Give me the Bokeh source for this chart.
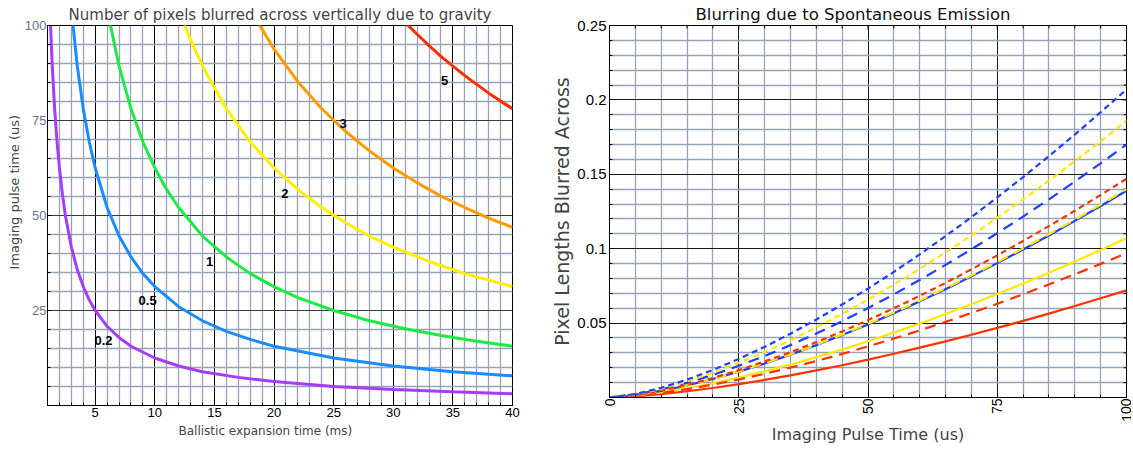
import math
from bokeh.plotting import figure
from bokeh.layouts import row
from bokeh.models import FixedTicker, Range1d, ColumnDataSource, Title
from bokeh.embed import file_html
from bokeh.resources import INLINE
from bokeh.core.properties import value

# ---------------- Gravity blur: imaging pulse time (us) vs ballistic expansion time (ms)
blur_levels = ["0.2", "0.5", "1", "2", "3", "5"]

t_02 = [1.2, 1.4, 1.6, 1.8, 2, 2.25, 2.5, 3, 3.5, 4, 4.5, 5, 6, 7, 8, 10, 12, 14, 17, 20, 25, 30, 35, 40]
tau_02 = [104.2, 89.3, 78.1, 69.4, 62.5, 55.6, 50.0, 41.7, 35.7, 31.3, 27.8, 25.0, 20.8, 17.9, 15.6, 12.5, 10.4, 8.9, 7.4, 6.3, 5.0, 4.2, 3.6, 3.1]

t_05 = [3, 3.5, 4, 4.5, 5, 6, 7, 8, 9, 10, 12, 14, 16, 18, 20, 25, 30, 35, 40]
tau_05 = [104.2, 89.3, 78.1, 69.4, 62.5, 52.1, 44.6, 39.1, 34.7, 31.3, 26.0, 22.3, 19.5, 17.4, 15.6, 12.5, 10.4, 8.9, 7.8]

t_1 = [6, 7, 8, 9, 10, 11, 12, 14, 16, 18, 20, 22, 25, 28, 31, 34, 37, 40]
tau_1 = [104.2, 89.3, 78.1, 69.4, 62.5, 56.8, 52.1, 44.6, 39.1, 34.7, 31.3, 28.4, 25.0, 22.3, 20.2, 18.4, 16.9, 15.6]

t_2 = [12, 13, 14, 16, 18, 20, 22, 24, 26, 28, 30, 33, 36, 40]
tau_2 = [104.2, 96.2, 89.3, 78.1, 69.4, 62.5, 56.8, 52.1, 48.1, 44.6, 41.7, 37.9, 34.7, 31.3]

t_3 = [18, 20, 22, 24, 26, 28, 30, 32, 34, 36, 38, 40]
tau_3 = [104.2, 93.8, 85.2, 78.1, 72.1, 67.0, 62.5, 58.6, 55.1, 52.1, 49.3, 46.9]

t_5 = [30, 31, 32, 33, 34, 35, 36, 37, 38, 39, 40]
tau_5 = [104.2, 100.8, 97.7, 94.7, 91.9, 89.3, 86.8, 84.5, 82.2, 80.1, 78.1]

label_x = [5.7, 9.4, 14.6, 20.9, 25.8, 34.3]
label_y = [17.0, 27.6, 37.9, 55.7, 74.3, 85.4]

left_x_ticks = [5, 10, 15, 20, 25, 30, 35, 40]
left_y_ticks = [25, 50, 75, 100]

# ---------------- Spontaneous emission blur vs imaging pulse time (us)
pulse_us = [0, 5, 10, 15, 20, 25, 30, 35, 40, 45, 50, 55, 60, 65, 70, 75, 80, 85, 90, 95, 100]

red_solid = [0, .0008, .0023, .0042, .0064, .0090, .0118, .0149, .0182, .0217, .0255, .0294, .0335, .0377, .0422, .0468, .0515, .0564, .0615, .0667, .0720]
red_long = [0, .0011, .0031, .0056, .0087, .0121, .0159, .0201, .0245, .0293, .0343, .0396, .0451, .0508, .0568, .0630, .0694, .0760, .0828, .0898, .0970]
red_short = [0, .0016, .0046, .0085, .0131, .0184, .0242, .0304, .0372, .0444, .0520, .0600, .0683, .0770, .0861, .0955, .1052, .1152, .1255, .1361, .1470]
yellow_solid = [0, .0012, .0034, .0062, .0096, .0134, .0176, .0222, .0271, .0323, .0378, .0436, .0497, .0561, .0627, .0695, .0766, .0839, .0914, .0991, .1070]
yellow_long = [0, .0016, .0044, .0081, .0125, .0175, .0230, .0290, .0354, .0423, .0495, .0571, .0651, .0734, .0820, .0909, .1002, .1097, .1195, .1296, .1400]
yellow_short = [0, .0021, .0059, .0108, .0166, .0233, .0306, .0385, .0471, .0561, .0658, .0759, .0864, .0975, .1089, .1208, .1331, .1458, .1588, .1722, .1860]
blue_solid = [0, .0016, .0044, .0081, .0124, .0174, .0228, .0288, .0352, .0420, .0491, .0567, .0646, .0728, .0814, .0903, .0995, .1089, .1187, .1287, .1390]
blue_long = [0, .0019, .0054, .0099, .0152, .0213, .0279, .0352, .0430, .0513, .0601, .0693, .0790, .0891, .0996, .1104, .1216, .1332, .1451, .1574, .1700]
blue_short = [0, .0023, .0065, .0120, .0185, .0259, .0340, .0429, .0524, .0625, .0732, .0844, .0962, .1085, .1212, .1345, .1481, .1622, .1767, .1917, .2070]

right_x_ticks = [0, 25, 50, 75, 100]
right_y_ticks = [0.05, 0.1, 0.15, 0.2, 0.25]
right_y_labels = ["0.05", "0.1", "0.15", "0.2", "0.25"]

MINOR_GRID = "#98a3b8"
TITLE_FONT = "DejaVu Sans"
TICK_FONT = "Liberation Sans"


def minor_between(step, lo, hi, majors):
    vals = []
    k = 0
    while True:
        v = round(lo + k * step, 6)
        if v > hi + 1e-9:
            break
        if all(abs(v - m) > 1e-9 for m in majors):
            vals.append(v)
        k += 1
    return vals


def style_axis(ax, font, size, color="black"):
    ax.axis_line_color = "black"
    ax.major_tick_in = 4
    ax.major_tick_out = 0
    ax.minor_tick_in = 3
    ax.minor_tick_out = 0
    ax.major_tick_line_color = "black"
    ax.minor_tick_line_color = "black"
    ax.major_label_text_font = font
    ax.major_label_text_font_size = size
    ax.major_label_text_color = color
    ax.axis_label_text_font_style = "normal"


# ---------------- left panel
p1 = figure(frame_width=465, frame_height=380,
            x_range=Range1d(1, 40), y_range=Range1d(0, 100),
            output_backend="svg", toolbar_location=None,
            min_border_left=47, min_border_right=18,
            min_border_top=24, min_border_bottom=46)
p1.title.text = "Number of pixels blurred across vertically due to gravity"
p1.title.align = "center"
p1.title.text_font = TITLE_FONT
p1.title.text_font_size = "15px"
p1.title.text_font_style = "normal"
p1.title.standoff = 3

lx_tick = FixedTicker(ticks=left_x_ticks, minor_ticks=minor_between(1, 1, 40, left_x_ticks))
ly_tick = FixedTicker(ticks=left_y_ticks, minor_ticks=minor_between(5, 0, 100, left_y_ticks))
p1.xaxis.ticker = lx_tick
p1.yaxis.ticker = ly_tick
p1.xgrid.ticker = lx_tick
p1.ygrid.ticker = ly_tick
for g in (p1.xgrid, p1.ygrid):
    g.grid_line_color = "black"
    g.grid_line_width = 1
    g.minor_grid_line_color = MINOR_GRID
    g.minor_grid_line_width = 1.3
p1.ygrid.grid_line_color = "#3a3a3a"

style_axis(p1.xaxis[0], TICK_FONT, "13px")
style_axis(p1.yaxis[0], TICK_FONT, "13px", "#6b7488")
p1.xaxis.major_label_standoff = 2
p1.yaxis.major_label_standoff = 1
p1.outline_line_color = "black"
p1.outline_line_alpha = 1

# axis captions, set off-centre along their axes
p1.add_layout(Title(text="Ballistic expansion time (ms)", align="left", offset=131,
                    text_font=TITLE_FONT, text_font_size="12px",
                    text_font_style="normal", standoff=4), "below")
p1.add_layout(Title(text="Imaging pulse time (us)", align="left", offset=136,
                    text_font=TITLE_FONT, text_font_size="13px",
                    text_font_style="normal", standoff=0), "left")

grav_series = [
    (t_02, tau_02, "#a53cf6"),
    (t_05, tau_05, "#1a8cff"),
    (t_1, tau_1, "#1fea45"),
    (t_2, tau_2, "#fff000"),
    (t_3, tau_3, "#ff9a00"),
    (t_5, tau_5, "#ff2d00"),
]
for xs, ys, col in grav_series:
    p1.line(xs, ys, line_color=col, line_width=3)

lbl_src = ColumnDataSource(dict(x=label_x, y=label_y, t=blur_levels))
p1.text(x="x", y="y", text="t", source=lbl_src,
        text_font=value(TICK_FONT), text_font_size="13px", text_font_style="bold",
        text_align="center", text_baseline="middle", text_color="black")

# ---------------- right panel
p2 = figure(frame_width=517, frame_height=372,
            x_range=Range1d(0, 100), y_range=Range1d(0, 0.25),
            output_backend="svg", toolbar_location=None,
            min_border_left=79, min_border_right=5,
            min_border_top=24, min_border_bottom=54)
p2.title.text = "Blurring due to Spontaneous Emission"
p2.title.align = "left"
p2.title.offset = 86
p2.title.text_font = TITLE_FONT
p2.title.text_font_size = "16.5px"
p2.title.text_font_style = "normal"
p2.title.text_color = "#111111"
p2.title.standoff = 4

rx_tick = FixedTicker(ticks=right_x_ticks, minor_ticks=minor_between(5, 0, 100, right_x_ticks))
ry_tick = FixedTicker(ticks=right_y_ticks, minor_ticks=minor_between(0.01, 0, 0.25, right_y_ticks))
p2.xaxis.ticker = rx_tick
p2.yaxis.ticker = ry_tick
p2.xgrid.ticker = rx_tick
p2.ygrid.ticker = ry_tick
for g in (p2.xgrid, p2.ygrid):
    g.grid_line_color = "#1a1a1a"
    g.grid_line_width = 1
    g.minor_grid_line_color = MINOR_GRID
    g.minor_grid_line_width = 1.3

style_axis(p2.xaxis[0], TICK_FONT, "14px")
style_axis(p2.yaxis[0], TICK_FONT, "15px")
p2.xaxis.major_label_orientation = 1.5708
p2.yaxis.major_label_overrides = {v: s for v, s in zip(right_y_ticks, right_y_labels)}
p2.xaxis.axis_label = "Imaging Pulse Time (us)"
p2.yaxis.axis_label = "Pixel Lengths Blurred Across"
p2.xaxis.axis_label_text_font_size = "16px"
p2.yaxis.axis_label_text_font_size = "19px"
for ax in (p2.xaxis[0], p2.yaxis[0]):
    ax.axis_label_text_font = TITLE_FONT
p2.xaxis.axis_label_standoff = 0
p2.xaxis.major_label_standoff = 1
p2.yaxis.axis_label_standoff = 1
p2.yaxis.major_label_standoff = 3
p2.outline_line_color = "black"

# inward frame ticks along the top and right edges (clipped to the frame)
top_major = [v for v in right_x_ticks if 0 < v < 100]
top_minor = [v for v in rx_tick.minor_ticks if 0 < v < 100]
side_major = [v for v in right_y_ticks if 0 < v < 0.25]
side_minor = [v for v in ry_tick.minor_ticks if 0 < v < 0.25]
p2.scatter(top_major, [0.25] * len(top_major), marker="dash", size=8,
           angle=math.pi / 2, line_color="black", line_width=1)
p2.scatter(top_minor, [0.25] * len(top_minor), marker="dash", size=6,
           angle=math.pi / 2, line_color="black", line_width=1)
p2.scatter([100] * len(side_major), side_major, marker="dash", size=8,
           line_color="black", line_width=1)
p2.scatter([100] * len(side_minor), side_minor, marker="dash", size=6,
           line_color="black", line_width=1)

emission_series = [
    (red_solid, "#ff3300", "solid"),
    (yellow_solid, "#ffe800", "solid"),
    (blue_solid, "#1f3fff", "solid"),
    (red_long, "#ff3300", "11 7"),
    (yellow_long, "#ffe800", "11 7"),
    (blue_long, "#1f3fff", "11 7"),
    (red_short, "#ff3300", "6 4"),
    (yellow_short, "#ffe800", "6 4"),
    (blue_short, "#1f3fff", "6 4"),
]
for ys, col, dash in emission_series:
    p2.line(pulse_us, ys, line_color=col, line_width=2.2, line_dash=dash)

layout = row(p1, p2)
open("out.html", "w").write(file_html(layout, INLINE))
